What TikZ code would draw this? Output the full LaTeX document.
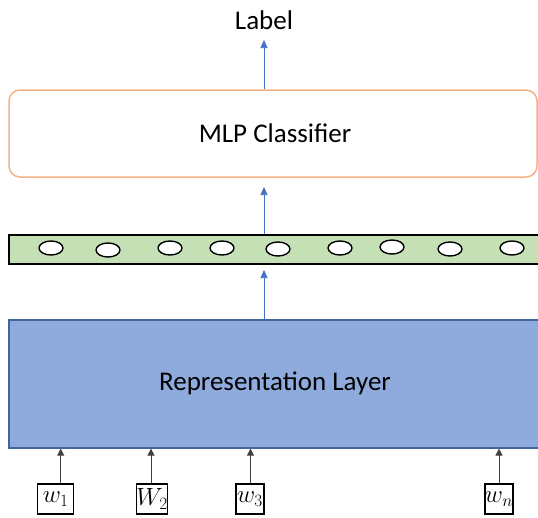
\documentclass[tikz,border=0pt]{standalone}
\usepackage{fontspec}
\setmainfont{Carlito}
\usetikzlibrary{arrows.meta}
\definecolor{mlporange}{HTML}{F4B183}
\definecolor{bargreen}{HTML}{C5E0B4}
\definecolor{repblue}{HTML}{8FAADC}
\definecolor{repedge}{HTML}{41669E}
\definecolor{arrblue}{HTML}{4472C4}
\tikzset{
  mlpbox/.style={draw=mlporange, line width=1.5pt, rounded corners=11pt, fill=white},
  barbox/.style={draw=black, line width=1.6pt, fill=bargreen},
  repbox/.style={draw=repedge, line width=1.6pt, fill=repblue},
  unit/.style={ellipse, draw=black, line width=1.4pt, fill=white, minimum width=24pt, minimum height=14pt, inner sep=0pt},
  wbox/.style={draw=black, line width=1.3pt, fill=white, minimum width=28pt, minimum height=30pt, inner sep=0pt, font=\fontsize{24}{26}\selectfont},
  barrow/.style={draw=arrblue, line width=0.7pt, -{Triangle[width=7pt,length=8pt]}},
  karrow/.style={draw=black!75, line width=0.8pt, -{Triangle[width=7pt,length=7pt]}},
  bigtext/.style={font=\fontsize{27}{30}\selectfont, inner sep=0pt}
}
\usetikzlibrary{shapes.geometric}
\begin{document}
\begin{tikzpicture}[x=1pt,y=-1pt]
\useasboundingbox (0,0) rectangle (538,517);
\clip (0,0) rectangle (538,517);
\fill[white] (0,0) rectangle (538,517);
% MLP classifier
\node[mlpbox, minimum width=528pt, minimum height=87pt, inner sep=0pt] (mlp) at (273,133.5) {};
\node[bigtext] (mlptxt) at (275,133) {MLP Classifier};
% Label
\node[bigtext, anchor=base] (lbl) at (264,29) {Label};
\coordinate (t1) at (264,40);
\coordinate (t2) at (264,187);
\coordinate (t3) at (264,270);
% green bar
\node[barbox, minimum width=560pt, minimum height=29pt, inner sep=0pt, anchor=north west] (bar) at (8,234) {};
\foreach \i/\x/\y in {1/51/248,2/108/250,3/170/248,4/222/248,5/278/249,6/340/248,7/392/247,8/450/249,9/512/248}
  \node[unit] (u\i) at (\x,\y) {};
% representation layer
\node[repbox, minimum width=560pt, minimum height=128pt, inner sep=0pt, anchor=north west] (rep) at (8,319) {};
\node[bigtext] (reptxt) at (275,383) {Representation Layer};
% arrows
\draw[barrow] (mlp.north -| t1) -- (t1);
\draw[barrow] (bar.north -| t2) -- (t2);
\draw[barrow] (rep.north -| t3) -- (t3);
% word boxes
\node[wbox, minimum width=36pt] (w1) at (55.7,499) {$w_1$};
\node[wbox] (w2) at (152,499) {$W_2$};
\node[wbox] (w3) at (250,499) {$w_3$};
\node[wbox] (wn) at (499,499) {$w_n$};
\draw[karrow] ([xshift=5pt]w1.north) -- ([xshift=5pt]w1.north |- rep.south);
\draw[karrow] ([xshift=-1pt]w2.north) -- ([xshift=-1pt]w2.north |- rep.south);
\draw[karrow] ([xshift=0.5pt]w3.north) -- ([xshift=0.5pt]w3.north |- rep.south);
\draw[karrow] (wn.north) -- (wn.north |- rep.south);
\end{tikzpicture}
\end{document}
